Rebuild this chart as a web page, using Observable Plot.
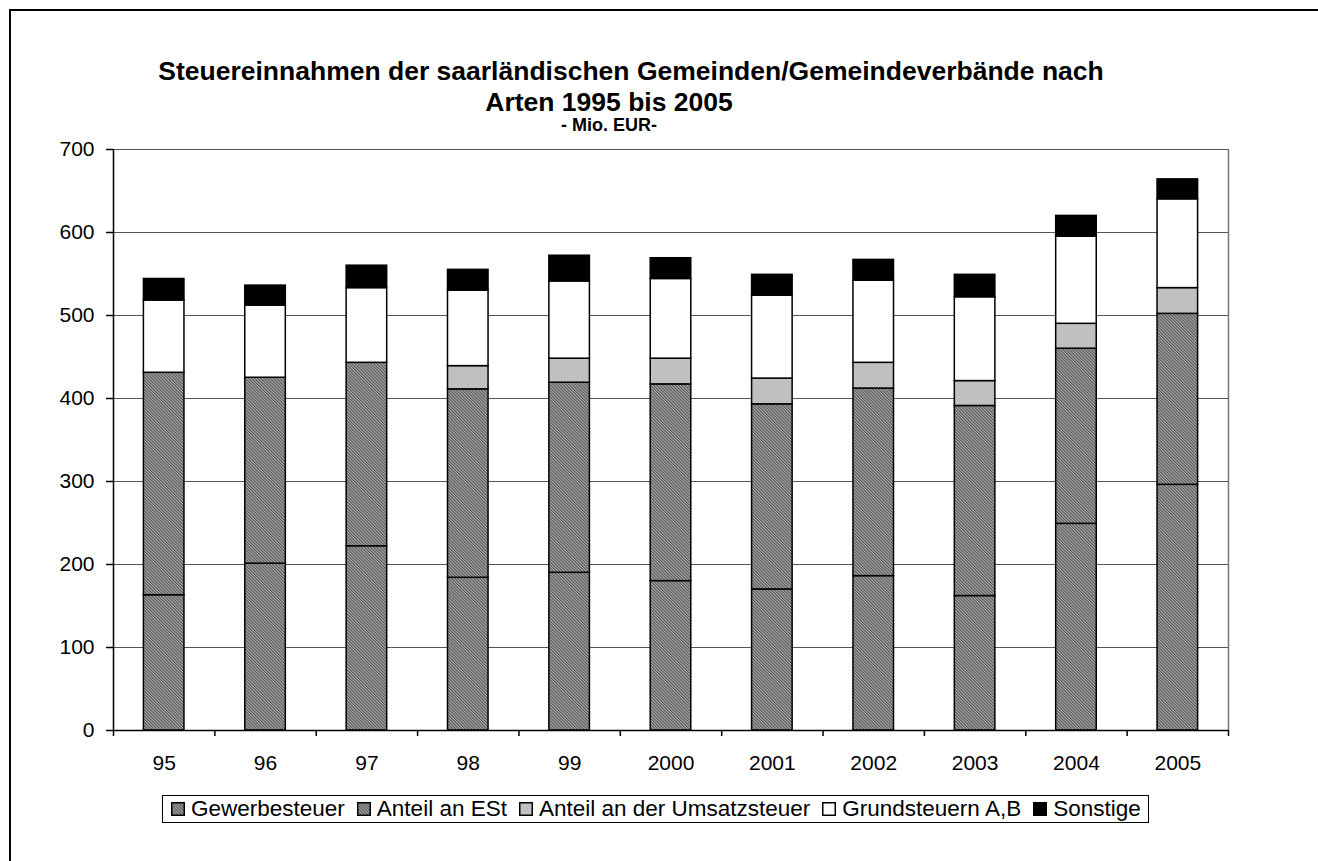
<!DOCTYPE html>
<html><head><meta charset="utf-8">
<script src="https://cdn.jsdelivr.net/npm/d3@7"></script>
<script src="https://cdn.jsdelivr.net/npm/@observablehq/plot@0.6"></script>
<style>
body{margin:0;background:#fff;}
#page{position:relative;width:1318px;height:861px;overflow:hidden;background:#fff;font-family:"Liberation Sans",Arial,sans-serif;color:#000;}
#frame{position:absolute;left:9px;top:9px;width:1400px;height:1000px;border:2px solid #000;box-sizing:border-box;}
.t{position:absolute;white-space:nowrap;font-weight:bold;transform:translate(-50%,-50%);line-height:1;}
#chart{position:absolute;left:0;top:0;}
#legend{position:absolute;left:162px;top:795px;height:28px;border:1px solid #000;box-sizing:border-box;display:flex;align-items:center;padding:0 7px 0 8px;font-size:22.5px;white-space:nowrap;background:#fff;}
.item{display:flex;align-items:center;margin-right:12px;}
.item:last-child{margin-right:0;}
.item svg{margin-right:6px;}
</style>
</head><body>
<div id="page">
  <div id="frame"></div>
  <div id="chart"></div>
  <div class="t" id="t1" style="left:631px;top:71px;font-size:26.5px;">Steuereinnahmen der saarländischen Gemeinden/Gemeindeverbände nach</div>
  <div class="t" id="t2" style="left:609px;top:102px;font-size:26.5px;">Arten 1995 bis 2005</div>
  <div class="t" id="t3" style="left:609px;top:125px;font-size:18px;">- Mio. EUR-</div>
  <div id="legend"></div>
</div>
<script>
const years = ["95","96","97","98","99","2000","2001","2002","2003","2004","2005"];
const gewerbesteuer = [163,201,222,184,190,180,170,186,162,249,296];
const anteilESt     = [268,224,221,227,229,237,223,226,229,211,206];
const anteilUSt     = [0,0,0,28,29,31,31,31,30,30,31];
const grundsteuern  = [87,87,90,91,93,96,100,99,101,105,107];
const sonstige      = [26,24,27,25,31,25,25,25,27,25,24];
const seriesNames = ["Gewerbesteuer","Anteil an ESt","Anteil an der Umsatzsteuer","Grundsteuern A,B","Sonstige"];
const seriesFills = ["url(#hatchGew)","url(#hatchESt)","#c0c0c0","#ffffff","#000000"];
const yTicks = [0,100,200,300,400,500,600,700];

const seriesValues = [gewerbesteuer, anteilESt, anteilUSt, grundsteuern, sonstige];
const rows = [];
years.forEach((yr, i) => {
  let base = 0;
  seriesValues.forEach((arr, s) => {
    const v = arr[i];
    if (v > 0) rows.push({i, year: yr, s, series: seriesNames[s], y1: base, y2: base + v});
    base += v;
  });
});

const defsMark = () => {
  const ns = "http://www.w3.org/2000/svg";
  const defs = document.createElementNS(ns, "defs");
  defs.innerHTML = `
    <pattern id="hatchGew" patternUnits="userSpaceOnUse" width="2.2" height="2.2" patternTransform="rotate(-45)">
      <rect width="2.2" height="2.2" fill="#a9a9a9"/>
      <line x1="0.55" y1="0" x2="0.55" y2="2.2" stroke="#575757" stroke-width="1.1"/>
    </pattern>
    <pattern id="hatchESt" patternUnits="userSpaceOnUse" width="2.2" height="2.2" patternTransform="rotate(-45)">
      <rect width="2.2" height="2.2" fill="#a9a9a9"/>
      <line x1="0.55" y1="0" x2="0.55" y2="2.2" stroke="#575757" stroke-width="1.1"/>
    </pattern>`;
  return defs;
};

const barMarks = seriesNames.map((name, s) =>
  Plot.rect(rows.filter(r => r.s === s), {
    x1: d => d.i + 0.3, x2: d => d.i + 0.7, y1: "y1", y2: "y2",
    fill: seriesFills[s], stroke: "#000", strokeWidth: 1.5
  })
);

const chart = Plot.plot({
  width: 1318, height: 790,
  marginLeft: 113, marginRight: 90, marginTop: 149, marginBottom: 60,
  style: {fontFamily: "'Liberation Sans', Arial, sans-serif", fontSize: "21px", background: "transparent", color: "#000"},
  x: {domain: [0, years.length], axis: null},
  y: {domain: [0, 700], axis: null},
  marks: [
    defsMark,
    Plot.ruleY(yTicks.filter(t => t > 0), {stroke: "#555", strokeWidth: 1}),
    Plot.ruleX([years.length], {stroke: "#777", strokeWidth: 1.5}),
    ...barMarks,
    Plot.ruleX([0], {stroke: "#000", strokeWidth: 1.5}),
    Plot.ruleY([0], {stroke: "#000", strokeWidth: 1.5}),
    Plot.axisY({ticks: yTicks, tickSize: 7, tickPadding: 12, fontSize: 21, tickFormat: d => String(d), label: null, strokeWidth: 1.5}),
    Plot.axisX({ticks: d3.range(years.length + 1), tickSize: 6, tickFormat: () => "", label: null, strokeWidth: 1.5}),
    Plot.axisX({ticks: years.map((_, i) => i + 0.5), tickSize: 0, tickPadding: 25, fontSize: 21,
      tickFormat: v => years[Math.floor(v)], label: null})
  ]
});
document.getElementById("chart").appendChild(chart);

const legend = document.getElementById("legend");
seriesNames.forEach((name, s) => {
  const item = document.createElement("div");
  item.className = "item";
  item.innerHTML = `<svg width="14" height="14"><rect x="0.75" y="0.75" width="12.5" height="12.5" fill="${seriesFills[s]}" stroke="#000" stroke-width="1.5"/></svg><span>${name}</span>`;
  legend.appendChild(item);
});
</script>
</body></html>
